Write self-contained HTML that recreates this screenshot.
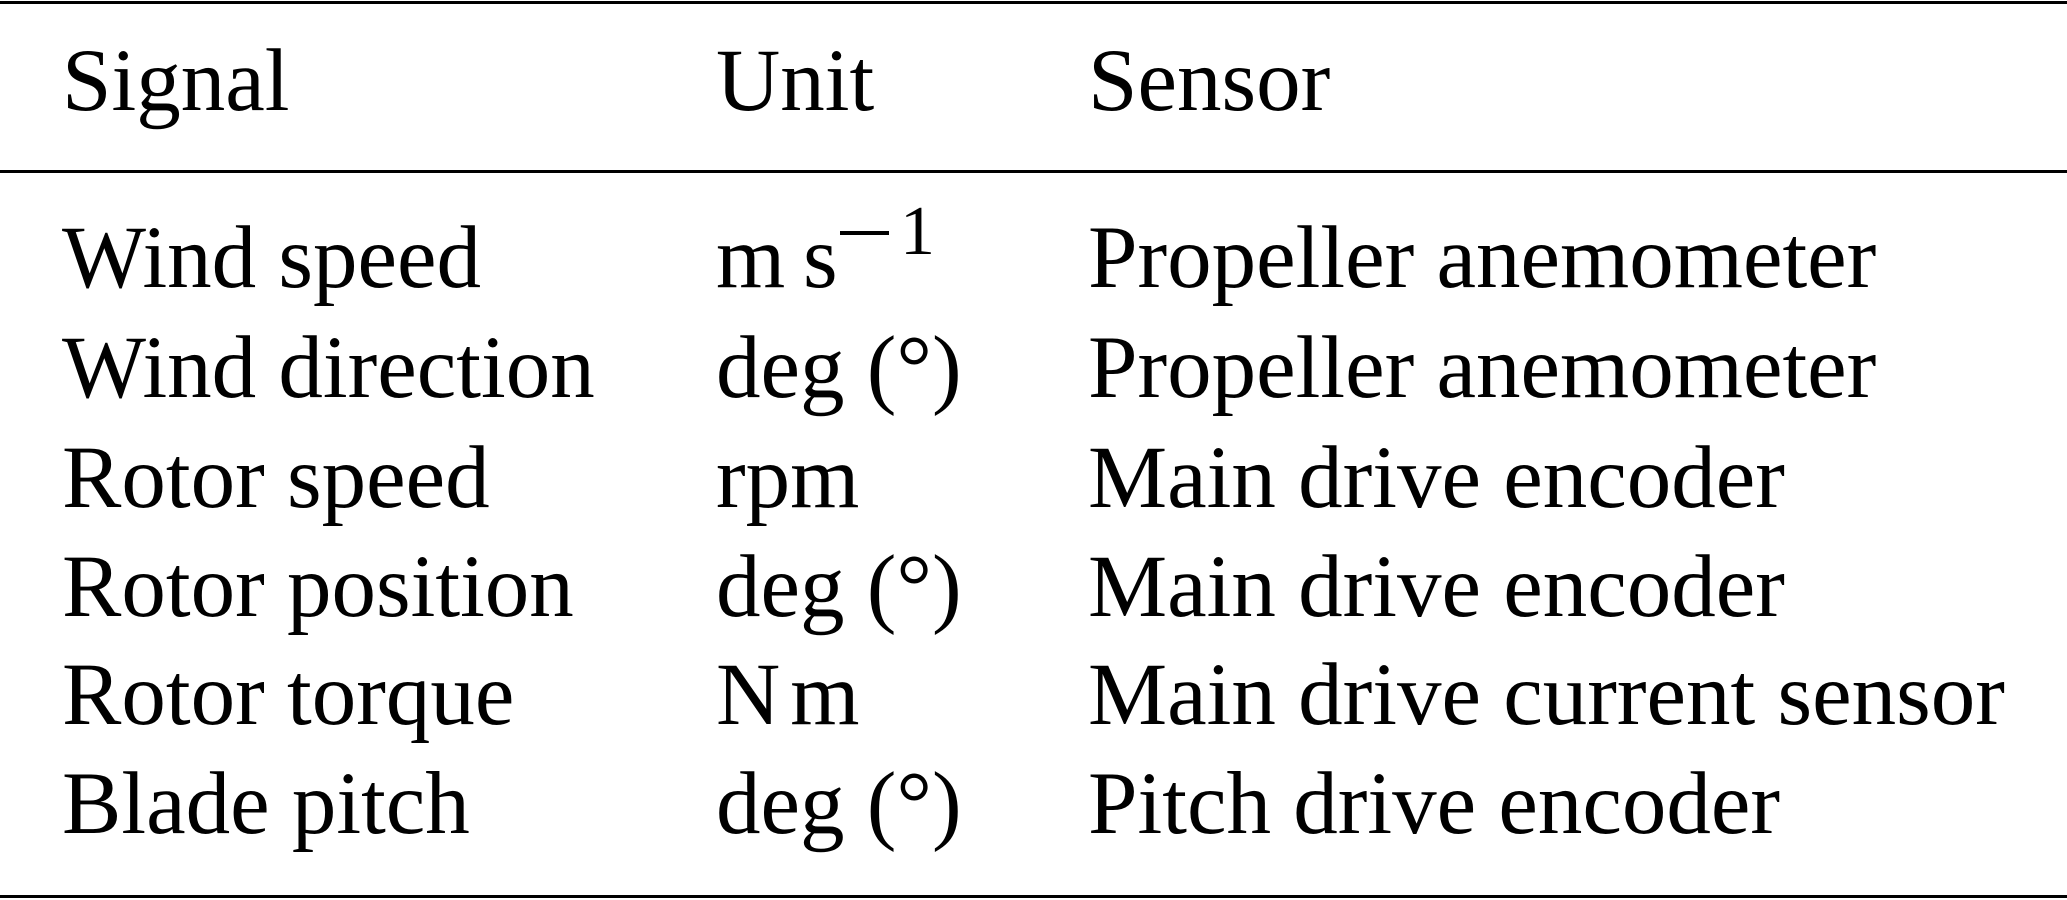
<!DOCTYPE html>
<html><head><meta charset="utf-8"><style>
html,body{margin:0;padding:0;background:#fff;width:2067px;height:900px;overflow:hidden}
svg{display:block}
text{font-family:"Liberation Serif",serif;font-size:89px;fill:#000}
</style></head><body>
<svg width="2067" height="900" viewBox="0 0 2067 900">
<rect x="0" y="1" width="2067" height="3" fill="#000"/>
<rect x="0" y="170" width="2067" height="3" fill="#000"/>
<rect x="0" y="895" width="2067" height="3" fill="#000"/>
<text x="62" y="110">Signal</text>
<text x="716" y="110">Unit</text>
<text x="1088" y="110">Sensor</text>

<text x="62" y="287">Wind speed</text>
<text x="716" y="287">m</text>
<text x="803" y="287">s</text>
<rect x="840" y="231" width="49" height="4" fill="#000"/>
<text x="900" y="254" style="font-size:70px">1</text>
<text x="1088" y="287">Propeller anemometer</text>

<text x="62" y="397">Wind direction</text>
<text x="716" y="397">deg (°)</text>
<text x="1088" y="397">Propeller anemometer</text>

<text x="62" y="507">Rotor speed</text>
<text x="716" y="507">rpm</text>
<text x="1088" y="507">Main drive encoder</text>

<text x="62" y="616">Rotor position</text>
<text x="716" y="616">deg (°)</text>
<text x="1088" y="616">Main drive encoder</text>

<text x="62" y="724">Rotor torque</text>
<text x="716" y="724">N<tspan dx="10">m</tspan></text>
<text x="1088" y="724">Main drive current sensor</text>

<text x="62" y="833">Blade pitch</text>
<text x="716" y="833">deg (°)</text>
<text x="1088" y="833">Pitch drive encoder</text>
</svg>
</body></html>
